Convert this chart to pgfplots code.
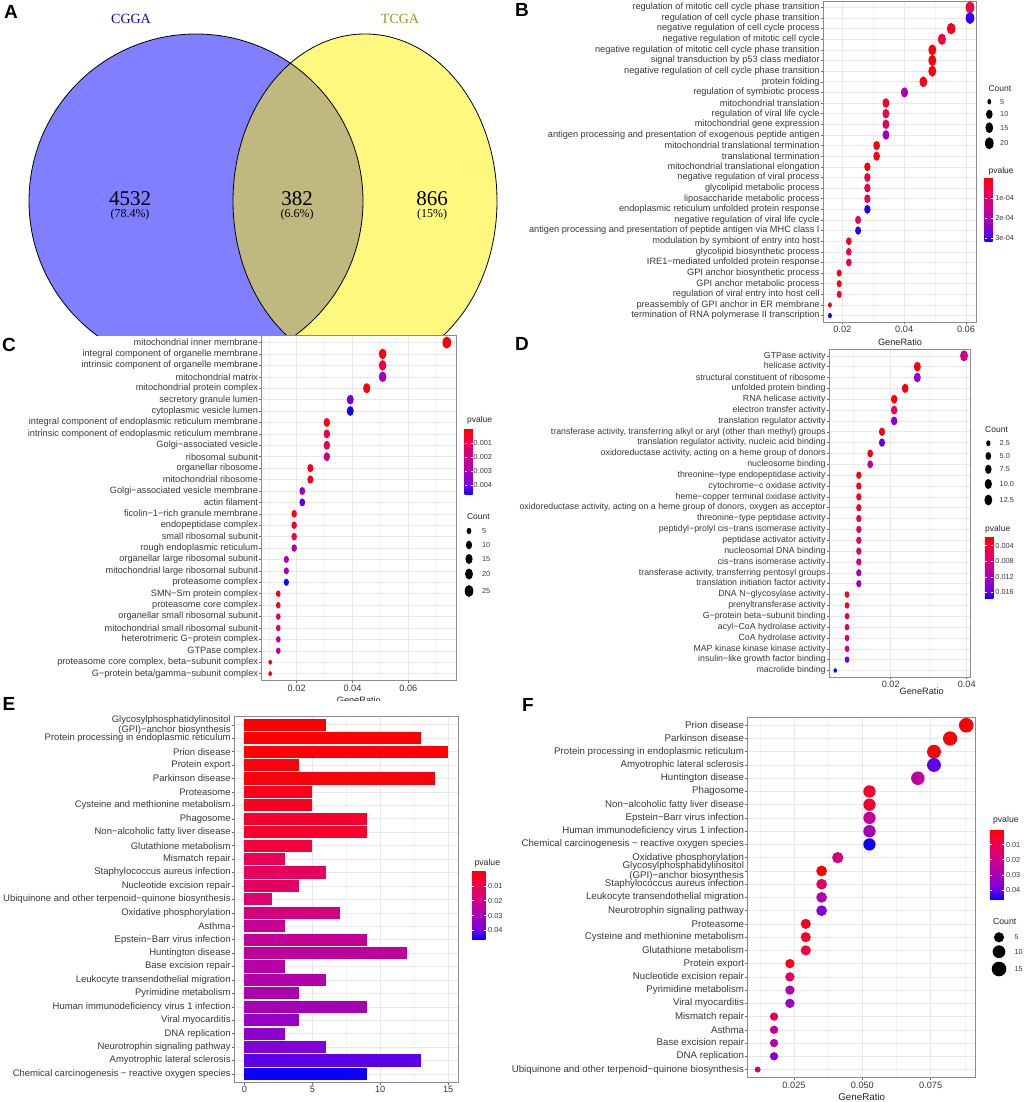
\documentclass[border=0pt]{standalone}
\usepackage{pgfplots}
\pgfplotsset{compat=1.18}
\usepackage{pgfplotstable}
\usepackage{fontspec}
\setmainfont{Liberation Sans}
\newfontfamily\vennfont{Liberation Serif}
\usetikzlibrary{calc}
\newcommand\fs[1]{\fontsize{#1}{#1}\selectfont}
\definecolor{txt}{gray}{0.22}
\definecolor{ggolive}{rgb}{0.6,0.6,0.1}

\pgfdeclareplotmark{vell}{%
  \pgfpathellipse{\pgfpointorigin}{\pgfqpoint{0.72\pgfplotmarksize}{0pt}}{\pgfqpoint{0pt}{\pgfplotmarksize}}%
  \pgfusepathqfill}
\pgfdeclareplotmark{circ}{%
  \pgfpathcircle{\pgfpointorigin}{\pgfplotmarksize}%
  \pgfusepathqfill}
% horizontal bar ending at the data point, reaching back to x = 0
\pgfdeclareplotmark{hbar}{%
  \pgfpathrectangle{\pgfqpoint{-\barlen pt}{-6.045pt}}{\pgfqpoint{\barlen pt}{12.09pt}}%
  \pgfusepathqfill}

\pgfplotsset{
  colormap={pv}{rgb255=(255,0,0) rgb255=(246,0,55) rgb255=(232,0,90) rgb255=(215,0,123) rgb255=(195,0,152) rgb255=(172,0,178) rgb255=(145,0,202) rgb255=(105,0,228) rgb255=(0,0,255)},
  gg/.style={
    scale only axis, anchor=south west,
    axis background/.style={fill=white},
    axis line style={draw=black!45, line width=0.7pt},
    tick align=outside, major tick length=2.5pt, minor tick length=0pt,
    tick style={draw=black!60, line width=0.5pt},
    xmajorgrids, xminorgrids, ymajorgrids,
    major grid style={draw=black!9, line width=0.55pt},
    minor grid style={draw=black!4.5, line width=0.3pt},
    xtick pos=left, ytick pos=left,
    colormap name=pv,
    scaled x ticks=false,
    yticklabel style={text=txt, inner sep=1pt},
    xticklabel style={text=txt, inner sep=1.5pt, font=\fs{9.2}},
  },
  ggcb/.style={
    scale only axis, anchor=north west,
    y dir=reverse, axis line style={draw=none},
    scaled y ticks=false,
    yticklabel style={font=\fs{7.3}, text=txt, inner sep=1pt},
    major tick length=2pt, tick align=inside,
    tick style={draw=white, line width=0.6pt},
  },
  canvas/.style={at={(0pt,0pt)}, anchor=south west, scale only axis,
    width=1024pt, height=1102pt, xmin=0, xmax=1024, ymin=0, ymax=1102,
    y dir=reverse, hide axis, clip=false},
}

\pgfplotstableread{
row ratio count p
1 0.0613 20 0.00005
2 0.0613 20 0.00030
3 0.0552 18 0.00002
4 0.0522 17 0.00005
5 0.0491 16 0.00001
6 0.0491 16 0.00001
7 0.0491 16 0.00001
8 0.0462 15 0.00001
9 0.0401 13 0.00020
10 0.0341 11 0.00002
11 0.0341 11 0.00006
12 0.0341 11 0.00008
13 0.0341 11 0.00023
14 0.0311 10 0.00001
15 0.0311 10 0.00002
16 0.0281 9 0.00001
17 0.0281 9 0.00005
18 0.0281 9 0.00006
19 0.0281 9 0.00007
20 0.0281 9 0.00031
21 0.0251 8 0.00008
22 0.0251 8 0.00030
23 0.0221 7 0.00002
24 0.0221 7 0.00006
25 0.0221 7 0.00007
26 0.0190 6 0.00001
27 0.0190 6 0.00002
28 0.0190 6 0.00003
29 0.0160 5 0.00001
30 0.0160 5 0.00031
}\tabB

\pgfplotstableread{
row ratio count p
1 0.0738 26 0.0001
2 0.0508 18 0.0002
3 0.0508 18 0.0008
4 0.0508 18 0.0031
5 0.0451 16 0.0002
6 0.0392 14 0.0039
7 0.0392 14 0.0046
8 0.0308 11 0.0002
9 0.0308 11 0.0007
10 0.0308 11 0.0009
11 0.0308 11 0.0020
12 0.0249 9 0.0002
13 0.0249 9 0.0003
14 0.0220 8 0.0034
15 0.0220 8 0.0042
16 0.0191 7 0.0002
17 0.0191 7 0.0005
18 0.0191 7 0.0006
19 0.0191 7 0.0027
20 0.0163 6 0.0028
21 0.0163 6 0.0028
22 0.0163 6 0.0046
23 0.0134 5 0.0002
24 0.0134 5 0.0003
25 0.0134 5 0.0012
26 0.0134 5 0.0012
27 0.0134 5 0.0022
28 0.0134 5 0.0022
29 0.0105 4 0.0002
30 0.0105 4 0.0003
}\tabC

\pgfplotstableread{
row ratio count p
1 0.0393 13 0.0080
2 0.0270 9 0.0025
3 0.0270 9 0.0130
4 0.0238 8 0.0020
5 0.0209 7 0.0020
6 0.0209 7 0.0050
7 0.0209 7 0.0140
8 0.0177 6 0.0022
9 0.0177 6 0.0158
10 0.0146 5 0.0025
11 0.0146 5 0.0100
12 0.0116 4 0.0022
13 0.0116 4 0.0025
14 0.0116 4 0.0028
15 0.0116 4 0.0030
16 0.0116 4 0.0040
17 0.0116 4 0.0050
18 0.0116 4 0.0058
19 0.0116 4 0.0062
20 0.0116 4 0.0068
21 0.0116 4 0.0118
22 0.0116 4 0.0128
23 0.0085 3 0.0025
24 0.0085 3 0.0035
25 0.0085 3 0.0055
26 0.0085 3 0.0060
27 0.0085 3 0.0068
28 0.0085 3 0.0090
29 0.0085 3 0.0150
30 0.0054 2 0.0175
}\tabD

\pgfplotstableread{
row count p
1 6 0.0002
2 13 0.0004
3 15 0.0006
4 4 0.0012
5 14 0.0015
6 5 0.0030
7 5 0.0035
8 9 0.0045
9 9 0.0050
10 5 0.0065
11 3 0.0100
12 6 0.0120
13 4 0.0130
14 2 0.0150
15 7 0.0180
16 3 0.0220
17 9 0.0230
18 12 0.0240
19 3 0.0260
20 6 0.0270
21 4 0.0280
22 9 0.0300
23 4 0.0330
24 3 0.0350
25 6 0.0370
26 13 0.0410
27 9 0.0455
}\tabE

\pgfplotstableread{
row ratio count p
1 0.0880 15 0.0006
2 0.0821 14 0.0015
3 0.0762 13 0.0004
4 0.0762 13 0.0410
5 0.0703 12 0.0240
6 0.0526 9 0.0045
7 0.0526 9 0.0050
8 0.0526 9 0.0230
9 0.0526 9 0.0300
10 0.0526 9 0.0455
11 0.0410 7 0.0180
12 0.0351 6 0.0002
13 0.0351 6 0.0120
14 0.0351 6 0.0270
15 0.0351 6 0.0370
16 0.0293 5 0.0030
17 0.0293 5 0.0035
18 0.0293 5 0.0065
19 0.0235 4 0.0012
20 0.0235 4 0.0130
21 0.0235 4 0.0280
22 0.0235 4 0.0330
23 0.0177 3 0.0100
24 0.0177 3 0.0220
25 0.0177 3 0.0260
26 0.0177 3 0.0350
27 0.0117 2 0.0150
}\tabF

\begin{document}
\begin{tikzpicture}
\useasboundingbox (0,0) rectangle (1024pt,1102pt);

% ---------- canvas 1: Venn diagram ----------
\begin{axis}[canvas]
  \fill[blue, fill opacity=0.5] (axis cs:196,201) circle[radius=167pt];
  \fill[yellow, fill opacity=0.5] (axis cs:365,201) ellipse[x radius=132pt, y radius=167pt];
  \draw[black, line width=0.8pt] (axis cs:196,201) circle[radius=167pt];
  \draw[black, line width=0.8pt] (axis cs:365,201) ellipse[x radius=132pt, y radius=167pt];
  % white background of panel C (covers the bottom of the Venn diagram)
  \fill[white] (axis cs:0,336.5) rectangle (axis cs:512,700);
  \node[font=\vennfont\fs{14}, text=blue] at (axis cs:131,18.5) {CGGA};
  \node[font=\vennfont\fs{14}, text=ggolive] at (axis cs:400,18.5) {TCGA};
  \node[font=\vennfont\fs{21}] at (axis cs:130,199) {4532};
  \node[font=\vennfont\fs{12}] at (axis cs:130,215) {(78.4\%)};
  \node[font=\vennfont\fs{21}] at (axis cs:297,199) {382};
  \node[font=\vennfont\fs{12}] at (axis cs:297,215) {(6.6\%)};
  \node[font=\vennfont\fs{21}] at (axis cs:432,199) {866};
  \node[font=\vennfont\fs{12}] at (axis cs:432,215) {(15\%)};
\end{axis}

% ---------- B ----------
\begin{axis}[gg,
  at={(823.3pt,780pt)}, width=153.4pt, height=321pt,
  xmin=0.01385, xmax=0.06346, ymin=0.4, ymax=30.6,
  xtick={0.02,0.04,0.06}, xticklabels={0.02,0.04,0.06},
  minor xtick={0.03,0.05},
  ytick={30,29,...,1},
  yticklabels={{regulation of mitotic cell cycle phase transition},{regulation of cell cycle phase transition},{negative regulation of cell cycle process},{negative regulation of mitotic cell cycle},{negative regulation of mitotic cell cycle phase transition},{signal transduction by p53 class mediator},{negative regulation of cell cycle phase transition},{protein folding},{regulation of symbiotic process},{mitochondrial translation},{regulation of viral life cycle},{mitochondrial gene expression},{antigen processing and presentation of exogenous peptide antigen},{mitochondrial translational termination},{translational termination},{mitochondrial translational elongation},{negative regulation of viral process},{glycolipid metabolic process},{liposaccharide metabolic process},{endoplasmic reticulum unfolded protein response},{negative regulation of viral life cycle},{antigen processing and presentation of peptide antigen via MHC class I},{modulation by symbiont of entry into host},{glycolipid biosynthetic process},{IRE1−mediated unfolded protein response},{GPI anchor biosynthetic process},{GPI anchor metabolic process},{regulation of viral entry into host cell},{preassembly of GPI anchor in ER membrane},{termination of RNA polymerase II transcription}},
  yticklabel style={font=\fs{9.2}},
  xlabel={GeneRatio},
  x label style={at={(axis description cs:0.5,0)}, anchor=center, yshift=-20pt, font=\fs{9.2}, text=black!85},
  point meta min=0, point meta max=0.00032,
  colorbar, colorbar style={ggcb, at={($(parent axis.north east)+(-0.7pt,-177pt)$)}, width=8pt, height=64pt,
    ytick={0.0001,0.0002,0.0003}, yticklabels={1e-04,2e-04,3e-04}, yticklabel style={xshift=1.5pt}},
]
\addplot[scatter, only marks, mark=vell, scatter src=explicit,
  scatter/use mapped color={draw=none, fill=mapped color},
  visualization depends on={2.7+3.3*sqrt((\thisrow{count}-5)/15) \as \msz},
  scatter/@pre marker code/.append style={/tikz/mark size=\msz}]
  table[x=ratio, y expr=31-\thisrow{row}, meta=p] {\tabB};
\end{axis}

% ---------- C ----------
\begin{axis}[gg,
  at={(261.7pt,421.5pt)}, width=194.3pt, height=344.8pt,
  xmin=0.00746, xmax=0.0771, ymin=0.4, ymax=30.6,
  xtick={0.02,0.04,0.06}, xticklabels={0.02,0.04,0.06},
  minor xtick={0.01,0.03,0.05,0.07},
  ytick={30,29,...,1},
  yticklabels={{mitochondrial inner membrane},{integral component of organelle membrane},{intrinsic component of organelle membrane},{mitochondrial matrix},{mitochondrial protein complex},{secretory granule lumen},{cytoplasmic vesicle lumen},{integral component of endoplasmic reticulum membrane},{intrinsic component of endoplasmic reticulum membrane},{Golgi−associated vesicle},{ribosomal subunit},{organellar ribosome},{mitochondrial ribosome},{Golgi−associated vesicle membrane},{actin filament},{ficolin−1−rich granule membrane},{endopeptidase complex},{small ribosomal subunit},{rough endoplasmic reticulum},{organellar large ribosomal subunit},{mitochondrial large ribosomal subunit},{proteasome complex},{SMN−Sm protein complex},{proteasome core complex},{organellar small ribosomal subunit},{mitochondrial small ribosomal subunit},{heterotrimeric G−protein complex},{GTPase complex},{proteasome core complex, beta−subunit complex},{G−protein beta/gamma−subunit complex}},
  yticklabel style={font=\fs{9.2}},
  xlabel={GeneRatio},
  x label style={at={(axis description cs:0.5,0)}, anchor=center, yshift=-19.5pt, font=\fs{9.2}, text=black!85},
  point meta min=0, point meta max=0.0047,
  colorbar, colorbar style={ggcb, at={($(parent axis.north east)+(0pt,-93.3pt)$)}, width=8pt, height=66pt,
    ytick={0.001,0.002,0.003,0.004}, yticklabels={0.001,0.002,0.003,0.004}},
]
\addplot[scatter, only marks, mark=vell, scatter src=explicit,
  scatter/use mapped color={draw=none, fill=mapped color},
  visualization depends on={2.5+3.5*sqrt((\thisrow{count}-4)/22) \as \msz},
  scatter/@pre marker code/.append style={/tikz/mark size=\msz}]
  table[x=ratio, y expr=31-\thisrow{row}, meta=p] {\tabC};
\end{axis}

% ---------- D ----------
\begin{axis}[gg,
  at={(829.3pt,425pt)}, width=141.4pt, height=327.7pt,
  xmin=0.00384, xmax=0.04105, ymin=0.4, ymax=30.6,
  xtick={0.02,0.04}, xticklabels={0.02,0.04},
  minor xtick={0.01,0.03},
  ytick={30,29,...,1},
  yticklabels={{GTPase activity},{helicase activity},{structural constituent of ribosome},{unfolded protein binding},{RNA helicase activity},{electron transfer activity},{translation regulator activity},{transferase activity, transferring alkyl or aryl (other than methyl) groups},{translation regulator activity, nucleic acid binding},{oxidoreductase activity, acting on a heme group of donors},{nucleosome binding},{threonine−type endopeptidase activity},{cytochrome−c oxidase activity},{heme−copper terminal oxidase activity},{oxidoreductase activity, acting on a heme group of donors, oxygen as acceptor},{threonine−type peptidase activity},{peptidyl−prolyl cis−trans isomerase activity},{peptidase activator activity},{nucleosomal DNA binding},{cis−trans isomerase activity},{transferase activity, transferring pentosyl groups},{translation initiation factor activity},{DNA N−glycosylase activity},{prenyltransferase activity},{G−protein beta−subunit binding},{acyl−CoA hydrolase activity},{CoA hydrolase activity},{MAP kinase kinase kinase activity},{insulin−like growth factor binding},{macrolide binding}},
  yticklabel style={font=\fs{8.8}},
  xlabel={GeneRatio},
  x label style={at={(axis description cs:0.5,0)}, anchor=center, xshift=21.7pt, yshift=-14.7pt, font=\fs{9.2}, text=black!85},
  point meta min=0.0017, point meta max=0.0176,
  colorbar, colorbar style={ggcb, at={($(parent axis.north east)+(5.6pt,-187.4pt)$)}, width=8.4pt, height=62pt,
    ytick={0.004,0.008,0.012,0.016}, yticklabels={0.004,0.008,0.012,0.016}, yticklabel style={xshift=1pt}},
]
\addplot[scatter, only marks, mark=vell, scatter src=explicit,
  scatter/use mapped color={draw=none, fill=mapped color},
  visualization depends on={2.3+3.2*sqrt((\thisrow{count}-2)/11) \as \msz},
  scatter/@pre marker code/.append style={/tikz/mark size=\msz}]
  table[x=ratio, y expr=31-\thisrow{row}, meta=p] {\tabD};
\end{axis}

% ---------- canvas 2: panel E background, letters, size legends ----------
\begin{axis}[canvas]
  \fill[white] (axis cs:0,701) rectangle (axis cs:512,1102);
  % panel letters
  \node[font=\bfseries\fs{19}] at (axis cs:11,12) {A};
  \node[font=\bfseries\fs{19}] at (axis cs:522,10) {B};
  \node[font=\bfseries\fs{19}] at (axis cs:9,345) {C};
  \node[font=\bfseries\fs{19}] at (axis cs:522,344) {D};
  \node[font=\bfseries\fs{19}] at (axis cs:9,704) {E};
  \node[font=\bfseries\fs{19}] at (axis cs:528,705) {F};
  % B legends
  \node[anchor=west, font=\fs{8.5}, text=black!85] at (axis cs:985,88.3) {Count};
  \addplot[only marks, mark=vell, black, mark size=2.7] coordinates {(989.3,101.7)};
  \addplot[only marks, mark=vell, black, mark size=4.6] coordinates {(989.3,114.3)};
  \addplot[only marks, mark=vell, black, mark size=5.4] coordinates {(989.3,127.7)};
  \addplot[only marks, mark=vell, black, mark size=6.0] coordinates {(989.3,143.3)};
  \node[anchor=west, font=\fs{7.3}, text=txt] at (axis cs:996.7,101.7) {5};
  \node[anchor=west, font=\fs{7.3}, text=txt] at (axis cs:996.7,114.3) {10};
  \node[anchor=west, font=\fs{7.3}, text=txt] at (axis cs:996.7,127.7) {15};
  \node[anchor=west, font=\fs{7.3}, text=txt] at (axis cs:996.7,143.3) {20};
  \node[anchor=west, font=\fs{8.5}, text=black!85] at (axis cs:985,171.7) {pvalue};
  % C legends
  \node[anchor=west, font=\fs{8.5}, text=black!85] at (axis cs:463.5,420.7) {pvalue};
  \node[anchor=west, font=\fs{8.5}, text=black!85] at (axis cs:463.5,516.7) {Count};
  \addplot[only marks, mark=vell, black, mark size=3.25] coordinates {(469,531)};
  \addplot[only marks, mark=vell, black, mark size=4.29] coordinates {(469,545)};
  \addplot[only marks, mark=vell, black, mark size=5.0] coordinates {(469,559)};
  \addplot[only marks, mark=vell, black, mark size=5.5] coordinates {(469,574)};
  \addplot[only marks, mark=vell, black, mark size=5.96] coordinates {(469,591)};
  \node[anchor=west, font=\fs{7.3}, text=txt] at (axis cs:478.5,531) {5};
  \node[anchor=west, font=\fs{7.3}, text=txt] at (axis cs:478.5,545) {10};
  \node[anchor=west, font=\fs{7.3}, text=txt] at (axis cs:478.5,559) {15};
  \node[anchor=west, font=\fs{7.3}, text=txt] at (axis cs:478.5,574) {20};
  \node[anchor=west, font=\fs{7.3}, text=txt] at (axis cs:478.5,591) {25};
  % D legends
  \node[anchor=west, font=\fs{8.5}, text=black!85] at (axis cs:981.7,429.3) {Count};
  \addplot[only marks, mark=vell, black, mark size=2.98] coordinates {(988.3,443.3)};
  \addplot[only marks, mark=vell, black, mark size=3.97] coordinates {(988.3,456)};
  \addplot[only marks, mark=vell, black, mark size=4.56] coordinates {(988.3,469.3)};
  \addplot[only marks, mark=vell, black, mark size=5.03] coordinates {(988.3,484)};
  \addplot[only marks, mark=vell, black, mark size=5.43] coordinates {(988.3,500)};
  \node[anchor=west, font=\fs{7.3}, text=txt] at (axis cs:996.2,443.3) {2.5};
  \node[anchor=west, font=\fs{7.3}, text=txt] at (axis cs:996.2,456) {5.0};
  \node[anchor=west, font=\fs{7.3}, text=txt] at (axis cs:996.2,469.3) {7.5};
  \node[anchor=west, font=\fs{7.3}, text=txt] at (axis cs:996.2,484) {10.0};
  \node[anchor=west, font=\fs{7.3}, text=txt] at (axis cs:996.2,500) {12.5};
  \node[anchor=west, font=\fs{8.5}, text=black!85] at (axis cs:981.7,529) {pvalue};
  % E legend
  \node[anchor=west, font=\fs{8.7}, text=black!85] at (axis cs:471,863.3) {pvalue};
  % F legends
  \node[anchor=west, font=\fs{8.7}, text=black!85] at (axis cs:989.5,820.7) {pvalue};
  \node[anchor=west, font=\fs{8.7}, text=black!85] at (axis cs:989.5,921.7) {Count};
  \addplot[only marks, mark=circ, black, mark size=5.07] coordinates {(999,937.3)};
  \addplot[only marks, mark=circ, black, mark size=6.37] coordinates {(999,951.7)};
  \addplot[only marks, mark=circ, black, mark size=7.3] coordinates {(999,969)};
  \node[anchor=west, font=\fs{7.3}, text=txt] at (axis cs:1011,937.3) {5};
  \node[anchor=west, font=\fs{7.3}, text=txt] at (axis cs:1011,951.7) {10};
  \node[anchor=west, font=\fs{7.3}, text=txt] at (axis cs:1011,969) {15};
\end{axis}

% ---------- E ----------
\begin{axis}[gg,
  at={(234.3pt,20pt)}, width=224pt, height=365.3pt,
  xmin=-0.75, xmax=15.75, ymin=0.4, ymax=27.6,
  xtick={0,5,10,15}, xticklabels={0,5,10,15},
  minor xtick={2.5,7.5,12.5},
  ytick={27,26,...,1},
  yticklabels={{Glycosylphosphatidylinositol\\(GPI)−anchor biosynthesis},{Protein processing in endoplasmic reticulum},{Prion disease},{Protein export},{Parkinson disease},{Proteasome},{Cysteine and methionine metabolism},{Phagosome},{Non−alcoholic fatty liver disease},{Glutathione metabolism},{Mismatch repair},{Staphylococcus aureus infection},{Nucleotide excision repair},{Ubiquinone and other terpenoid−quinone biosynthesis},{Oxidative phosphorylation},{Asthma},{Epstein−Barr virus infection},{Huntington disease},{Base excision repair},{Leukocyte transendothelial migration},{Pyrimidine metabolism},{Human immunodeficiency virus 1 infection},{Viral myocarditis},{DNA replication},{Neurotrophin signaling pathway},{Amyotrophic lateral sclerosis},{Chemical carcinogenesis − reactive oxygen species}},
  yticklabel style={font=\fontsize{9.5}{9.8}\selectfont, align=right},
  point meta min=0, point meta max=0.046,
  colorbar, colorbar style={ggcb, at={($(parent axis.north east)+(5.4pt,-154.3pt)$)}, width=13.3pt, height=68.3pt,
    ytick={0.01,0.02,0.03,0.04}, yticklabels={0.01,0.02,0.03,0.04}, yticklabel style={xshift=1.5pt}},
]
\addplot[scatter, only marks, mark=hbar, scatter src=explicit,
  scatter/use mapped color={draw=none, fill=mapped color},
  visualization depends on={\thisrow{count}*13.5758 \as \barlen}]
  table[x=count, y expr=28-\thisrow{row}, meta=p] {\tabE};
\end{axis}

% ---------- F ----------
\begin{axis}[gg,
  at={(747.7pt,24.5pt)}, width=228pt, height=360.2pt,
  xmin=0.00807, xmax=0.09146, ymin=0.4, ymax=27.6,
  xtick={0.025,0.05,0.075}, xticklabels={0.025,0.050,0.075},
  minor xtick={0.0125,0.0375,0.0625,0.0875},
  ytick={27,26,...,1},
  yticklabels={{Prion disease},{Parkinson disease},{Protein processing in endoplasmic reticulum},{Amyotrophic lateral sclerosis},{Huntington disease},{Phagosome},{Non−alcoholic fatty liver disease},{Epstein−Barr virus infection},{Human immunodeficiency virus 1 infection},{Chemical carcinogenesis − reactive oxygen species},{Oxidative phosphorylation},{Glycosylphosphatidylinositol\\(GPI)−anchor biosynthesis},{Staphylococcus aureus infection},{Leukocyte transendothelial migration},{Neurotrophin signaling pathway},{Proteasome},{Cysteine and methionine metabolism},{Glutathione metabolism},{Protein export},{Nucleotide excision repair},{Pyrimidine metabolism},{Viral myocarditis},{Mismatch repair},{Asthma},{Base excision repair},{DNA replication},{Ubiquinone and other terpenoid−quinone biosynthesis}},
  yticklabel style={font=\fontsize{9.7}{9.8}\selectfont, align=right},
  xlabel={GeneRatio},
  x label style={at={(axis description cs:0.5,0)}, anchor=center, yshift=-19.2pt, font=\fs{9.8}, text=black!85},
  point meta min=0, point meta max=0.046,
  colorbar, colorbar style={ggcb, at={($(parent axis.north east)+(5.6pt,-112pt)$)}, width=14pt, height=70pt,
    ytick={0.01,0.02,0.03,0.04}, yticklabels={0.01,0.02,0.03,0.04}, yticklabel style={xshift=1pt}},
]
\addplot[scatter, only marks, mark=circ, scatter src=explicit,
  scatter/use mapped color={draw=none, fill=mapped color},
  visualization depends on={3+4.3*sqrt((\thisrow{count}-2)/13) \as \msz},
  scatter/@pre marker code/.append style={/tikz/mark size=\msz}]
  table[x=ratio, y expr=28-\thisrow{row}, meta=p] {\tabF};
\end{axis}
\end{tikzpicture}
\end{document}
